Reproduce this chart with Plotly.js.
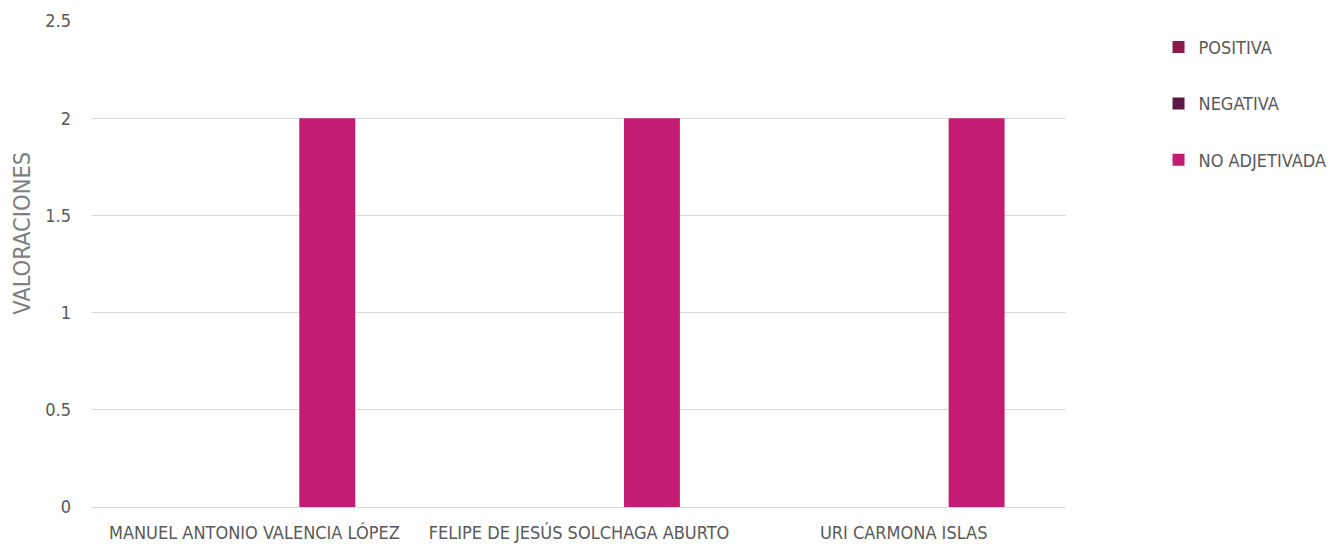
<!DOCTYPE html>
<html>
<head>
<meta charset="utf-8">
<script src="https://cdn.plot.ly/plotly-3.0.1.min.js"></script>
<style>
  html, body { margin: 0; padding: 0; background: #fff; }
  #chart { width: 1330px; height: 544px; }
</style>
</head>
<body>
<div id="chart"></div>
<script>
    const candidatos = ['MANUEL ANTONIO VALENCIA LÓPEZ', 'FELIPE DE JESÚS SOLCHAGA ABURTO', 'URI CARMONA ISLAS'];
    const positiva = [0, 0, 0];
    const negativa = [0, 0, 0];
    const noAdjetivada = [2, 2, 2];

    const fontFam = '"DejaVu Sans Condensed", "Liberation Sans", sans-serif';
    const gris = '#595959';

    const traces = [
        { name: 'POSITIVA', y: positiva, color: '#8b1a4b' },
        { name: 'NEGATIVA', y: negativa, color: '#5a1846' },
        { name: 'NO ADJETIVADA', y: noAdjetivada, color: '#c41c73' }
    ].map((s, i) => ({
        type: 'bar',
        name: s.name,
        x: candidatos,
        y: s.y,
        legendgroup: 'g' + i,
        marker: { color: s.color, line: { width: 0 } },
        hoverinfo: 'x+y+name'
    }));

    Plotly.newPlot('chart', traces, {
        width: 1330,
        height: 544,
        barmode: 'group',
        bargap: 0.326,
        bargroupgap: 0.233,
        paper_bgcolor: '#fff',
        plot_bgcolor: '#fff',
        font: { family: fontFam, color: gris, size: 18 },
        margin: { l: 92, r: 264, t: 21, b: 37, autoexpand: false },
        showlegend: true,
        legend: {
            x: 1.095, y: 0.984, xanchor: 'left', yanchor: 'top',
            tracegroupgap: 30,
            font: { size: 18, color: gris }
        },
        annotations: [{
            text: 'VALORACIONES',
            textangle: -90,
            xref: 'paper', yref: 'paper',
            x: -0.072, y: 0.564,
            xanchor: 'center', yanchor: 'middle',
            showarrow: false,
            font: { size: 23.5, color: '#7f7f7f' }
        }],
        xaxis: {
            showgrid: false,
            showline: true,
            linecolor: '#d9d9d9',
            linewidth: 1,
            ticks: '',
            automargin: false,
            ticklabelstandoff: 9,
            tickfont: { size: 18, color: gris }
        },
        yaxis: {
            range: [0, 2.5],
            dtick: 0.5,
            showgrid: true,
            gridcolor: '#d9d9d9',
            zeroline: false,
            ticks: '',
            automargin: false,
            ticklabelstandoff: 20,
            tickfont: { size: 18, color: gris }
        }
    }, { displayModeBar: false });
</script>
</body>
</html>
